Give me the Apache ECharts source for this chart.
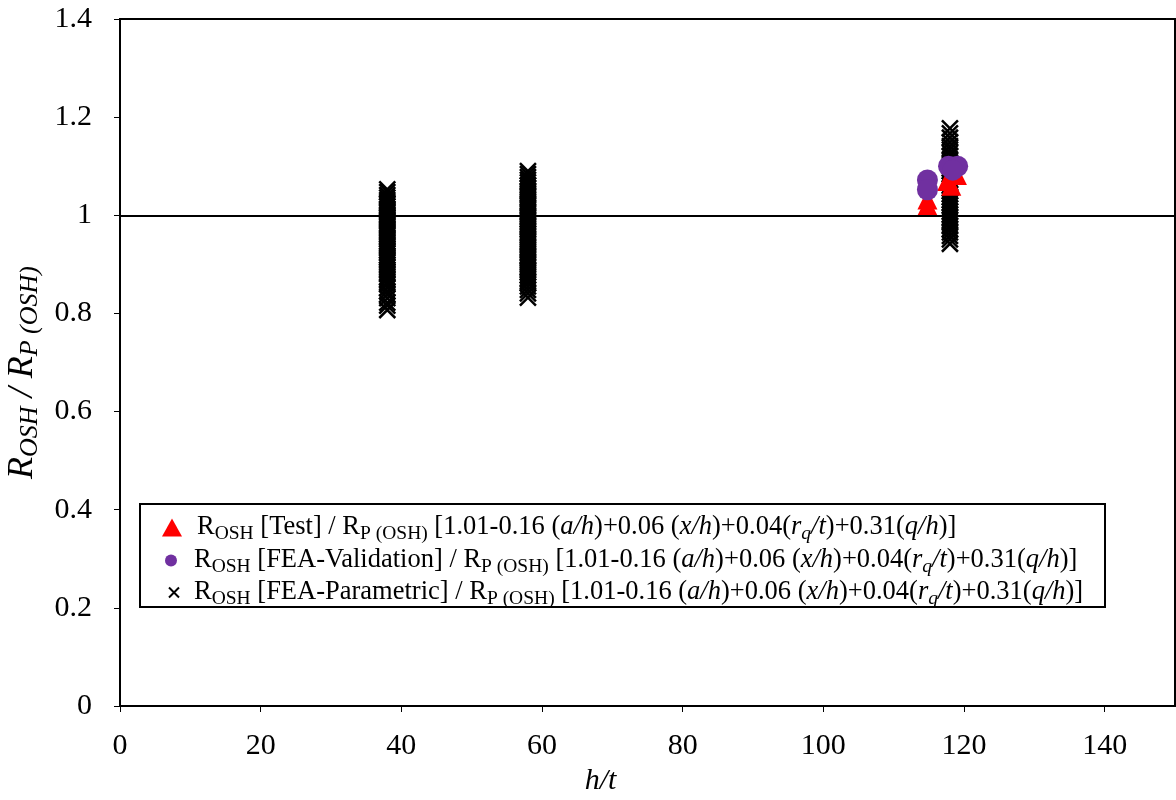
<!DOCTYPE html>
<html><head><meta charset="utf-8">
<script src="https://cdn.jsdelivr.net/npm/echarts@6/dist/echarts.min.js"></script>
<style>html,body{margin:0;padding:0;background:#fff}#c{width:1176px;height:800px}</style>
</head><body><div id="c"></div>
<script>
// h/t positions of the parametric clusters
const paramX = [38, 58, 118];
// R_OSH [FEA-Parametric] / R_P(OSH) ratios per cluster
const param38 = [0.807, 0.816, 0.822, 0.831, 0.839, 0.845, 0.852, 0.859, 0.864, 0.870, 0.874, 0.880, 0.884, 0.889, 0.895, 0.899, 0.905, 0.909, 0.914, 0.918, 0.923, 0.928, 0.932, 0.937, 0.941, 0.946, 0.951, 0.955, 0.960, 0.964, 0.968, 0.973, 0.978, 0.982, 0.987, 0.991, 0.995, 1.000, 1.005, 1.009, 1.013, 1.018, 1.023, 1.027, 1.031, 1.036, 1.041, 1.047, 1.053];
const param58 = [0.832, 0.841, 0.848, 0.855, 0.862, 0.866, 0.872, 0.878, 0.883, 0.888, 0.894, 0.899, 0.904, 0.909, 0.915, 0.919, 0.925, 0.930, 0.935, 0.941, 0.946, 0.951, 0.956, 0.962, 0.966, 0.972, 0.977, 0.982, 0.988, 0.992, 0.998, 1.003, 1.008, 1.014, 1.019, 1.024, 1.029, 1.035, 1.040, 1.045, 1.050, 1.056, 1.061, 1.067, 1.072, 1.078, 1.084, 1.090];
const param118 = [0.942, 0.951, 0.958, 0.965, 0.972, 0.978, 0.985, 0.990, 0.996, 1.002, 1.008, 1.014, 1.020, 1.026, 1.031, 1.037, 1.043, 1.049, 1.055, 1.061, 1.066, 1.072, 1.078, 1.084, 1.090, 1.096, 1.102, 1.108, 1.114, 1.121, 1.127, 1.134, 1.141, 1.149, 1.158, 1.167, 1.177];
// Test results
const testX = [114.8, 114.8, 117.6, 118.2, 119.0];
const testY = [1.020, 1.032, 1.070, 1.060, 1.082];
// FEA validation results
const valX = [114.8, 114.8, 117.8, 119.1, 118.4];
const valY = [1.072, 1.052, 1.100, 1.100, 1.092];
// axis ticks
const xTicks = [0, 20, 40, 60, 80, 100, 120, 140];
const yTicks = ['0', '0.2', '0.4', '0.6', '0.8', '1', '1.2', '1.4'];
const refLine = 1;

const FF = '"Liberation Serif","Times New Roman",serif';
const paramData = [];
[param38, param58, param118].forEach((arr, k) => arr.forEach(v => paramData.push([paramX[k], v])));
const testData = testX.map((x, i) => [x, testY[i]]);
const valData = valX.map((x, i) => [x, valY[i]]);

const eq = '{r| [1.01-0.16 (}{i|a/h}{r|)+0.06 (}{i|x/h}{r|)+0.04(}{i|r}{is|q}{i|/t}{r|)+0.31(}{i|q/h}{r|)]}';
const names = {
  test: '{r|R}{s|OSH}{r| [Test] / R}{s|P (OSH)}' + eq,
  val: '{r|R}{s|OSH}{r| [FEA-Validation] / R}{s|P (OSH)}' + eq,
  par: '{r|R}{s|OSH}{r| [FEA-Parametric] / R}{s|P (OSH)}' + eq
};
const rich = {
  r: {fontSize: 26.5, fontFamily: FF, color: '#000'},
  i: {fontSize: 26.5, fontFamily: FF, fontStyle: 'italic', color: '#000'},
  s: {fontSize: 19.5, fontFamily: FF, color: '#000', padding: [12, 0, 0, 0]},
  is: {fontSize: 19.5, fontFamily: FF, fontStyle: 'italic', color: '#000', padding: [12, 0, 0, 0]}
};
function lg(name, top, left, w, h, padL) {
  return {
    data: [name], top: top, left: left, itemWidth: w, itemHeight: h, padding: 0,
    formatter: function (n) { return names[n]; },
    textStyle: {rich: rich, padding: [0, 0, 0, padL]},
    selectedMode: false
  };
}
const chart = echarts.init(document.getElementById('c'));
chart.setOption({
  animation: false,
  backgroundColor: '#fff',
  grid: {left: 120, right: 1, top: 19, bottom: 94, show: true, borderColor: '#000', borderWidth: 2,
    containLabel: false, outerBoundsMode: 'none'},
  graphic: [{type: 'rect', shape: {x: 140, y: 504, width: 965, height: 103}, style: {fill: '#fff', stroke: '#000', lineWidth: 2}, z: 0}],
  legend: [lg('test', 514, 162, 20, 18, 10), lg('val', 547, 165, 12, 12, 12), lg('par', 579, 168, 10, 10, 10)],
  xAxis: {
    type: 'value', min: xTicks[0], max: 150, interval: 20,
    name: 'h/t', nameLocation: 'middle', nameGap: 60,
    nameTextStyle: {fontFamily: FF, fontSize: 30, fontStyle: 'italic', color: '#000', padding: [0, 94, 0, 0]},
    axisLine: {lineStyle: {color: '#000', width: 2}},
    axisTick: {length: 6, lineStyle: {color: '#000', width: 1}},
    axisLabel: {fontFamily: FF, fontSize: 30, color: '#000', margin: 25, showMaxLabel: false},
    splitLine: {show: false}
  },
  yAxis: {
    type: 'value', min: 0, max: 1.4, interval: 0.2,
    name: '{i|R}{is|OSH}{i| / R}{is|P (OSH)}', nameLocation: 'middle', nameGap: 66, nameRotate: 90,
    nameTextStyle: {padding: [0, 20, 0, 0], rich: {
      i: {fontSize: 36, fontFamily: FF, fontStyle: 'italic', color: '#000'},
      is: {fontSize: 26, fontFamily: FF, fontStyle: 'italic', color: '#000', padding: [16, 0, 0, 0]}
    }},
    axisLine: {lineStyle: {color: '#000', width: 2}},
    axisTick: {length: 6, lineStyle: {color: '#000', width: 1}},
    axisLabel: {fontFamily: FF, fontSize: 30, color: '#000', margin: 28,
      formatter: function (v) { return yTicks[Math.round(v / 0.2)]; }},
    splitLine: {show: false}
  },
  series: [
    {
      name: 'par', type: 'scatter', data: paramData, z: 2,
      symbol: 'path://M0,0L10,10M10,0L0,10', symbolSize: 16,
      itemStyle: {color: 'rgba(0,0,0,0)', borderColor: '#000', borderWidth: 2.5, opacity: 1},
      markLine: {silent: true, symbol: 'none', label: {show: false},
        lineStyle: {color: '#000', width: 2, type: 'solid'}, data: [{yAxis: refLine}]}
    },
    {name: 'test', type: 'scatter', data: testData, z: 3, symbol: 'triangle', symbolSize: 20,
      itemStyle: {color: '#ff0000', opacity: 1}},
    {name: 'val', type: 'scatter', data: valData, z: 4, symbol: 'circle', symbolSize: 21,
      itemStyle: {color: '#7030a0', opacity: 1}}
  ]
});
</script></body></html>
